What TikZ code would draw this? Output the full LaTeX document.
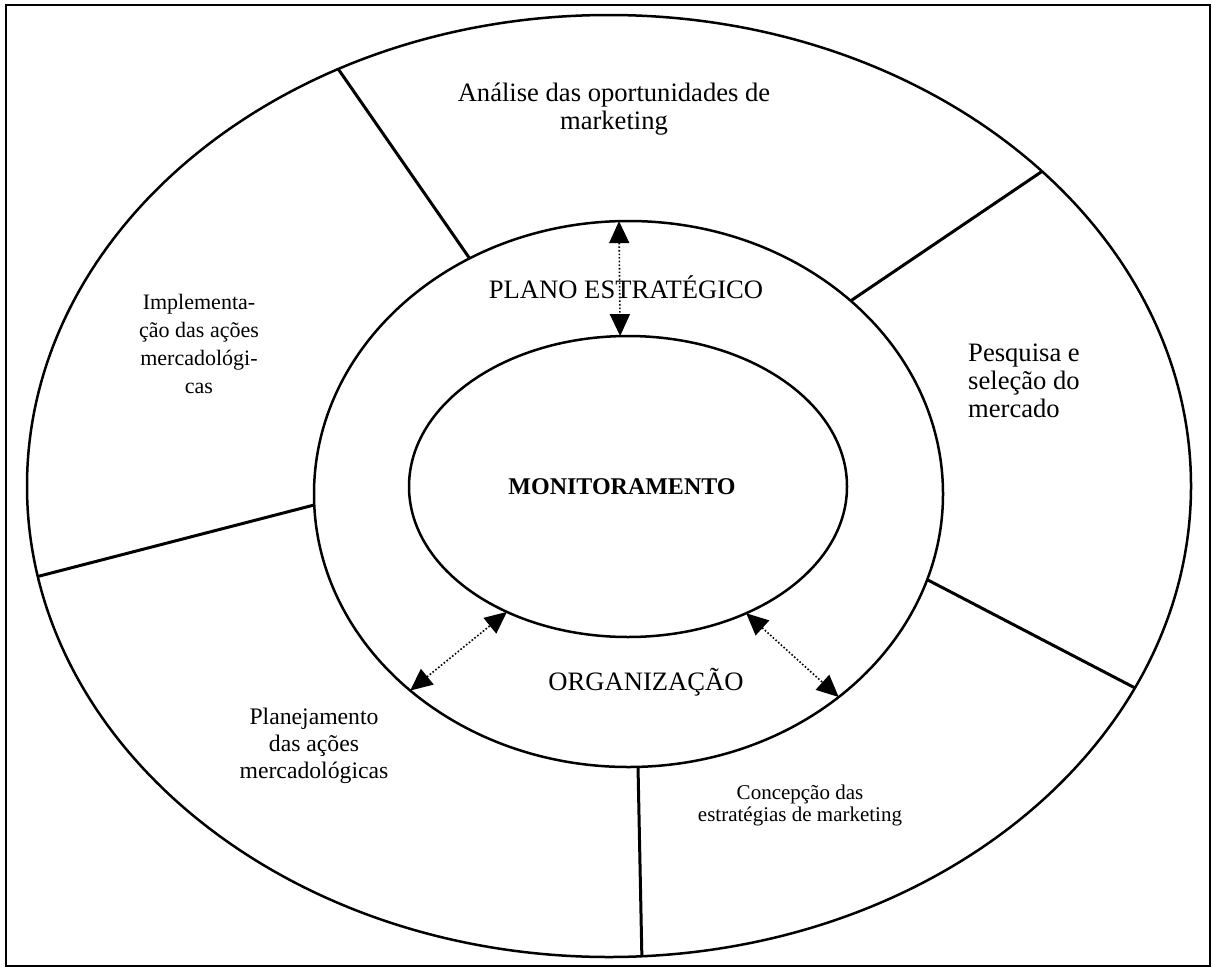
\documentclass[tikz,border=0pt]{standalone}
\usepackage{fontspec}
\setmainfont{Liberation Serif}
\usetikzlibrary{shapes.geometric,arrows.meta}
\begin{document}
\begin{tikzpicture}[x=1pt,y=-1pt,
  ring/.style={ellipse,draw,line width=2.5pt,inner sep=0pt,outer sep=0pt},
  divider/.style={line width=3pt},
  link/.style={dotted,line width=1.6pt,
    {Triangle[length=22pt,width=20pt]}-{Triangle[length=22pt,width=20pt]}},
  lbl/.style={align=center,inner sep=0pt},
  big/.style={font=\fontsize{26.6}{28}\selectfont},
  mid/.style={font=\fontsize{23.7}{27}\selectfont},
  small/.style={font=\fontsize{21}{22}\selectfont}]
\useasboundingbox (0,0) rectangle (1212,969);
\draw[line width=1.6pt] (6,5) rectangle (1210,966);
% rings
\node[ring,minimum width=1164pt,minimum height=942pt] (outer) at (609,486) {};
\node[ring,minimum width=629pt,minimum height=546pt] (middle) at (628.5,494) {};
\node[ring,minimum width=438pt,minimum height=301pt] (inner) at (628,486.5) {};
% dividers
\draw[divider] (middle.124.9) -- (outer.123.7);
\draw[divider] (middle.41.8) -- (outer.36.6);
\draw[divider] (middle.-16.4) -- (outer.-21.6);
\draw[divider] (middle.-88.2) -- (outer.-86.6);
\draw[divider] (middle.182.2) -- (outer.189.6);
% dotted links
\draw[link] (middle.92.2) -- (inner.93.8);
\draw[link] (middle.222.2) -- (inner.226.7);
\draw[link] (inner.-47.1) -- (middle.-44.5);
% labels
\node[lbl,big] (anal) at (614,109) {Análise das oportunidades de\\marketing};
\node[lbl,big,align=left,anchor=west] (pesq) at (968,381) {Pesquisa e\\seleção do\\mercado};
\node[lbl,font=\fontsize{22}{28}\selectfont] (impl) at (199,344) {Implementa-\\ção das ações\\mercadológi-\\cas};
\node[lbl,mid] (plan) at (314,746) {Planejamento\\das ações\\mercadológicas};
\node[lbl,small] (conc) at (800,805) {Concepção das\\estratégias de marketing};
\node[lbl,big] (plano) at (626,287) {PLANO ESTRATÉGICO};
\node[lbl,font=\fontsize{24}{26}\selectfont\bfseries] (moni) at (622,487) {MONITORAMENTO};
\node[lbl,big] (org) at (646,682) {ORGANIZAÇÃO};
\end{tikzpicture}
\end{document}
